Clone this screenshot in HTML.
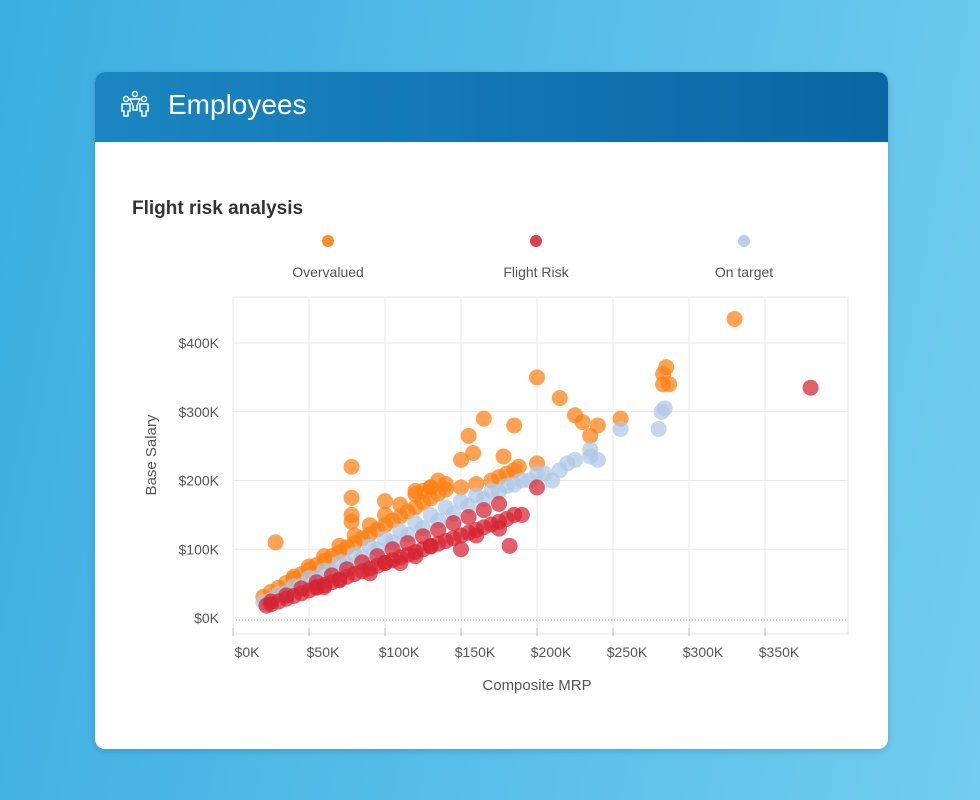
<!DOCTYPE html>
<html><head><meta charset="utf-8"><style>
body{margin:0;width:980px;height:800px;overflow:hidden;background:linear-gradient(100deg,#3caee2 0%,#5cc0ea 60%,#72cdee 100%);font-family:"Liberation Sans",sans-serif;}
#card{position:absolute;left:95px;top:72px;width:793px;height:677px;background:#fff;border-radius:10px;overflow:hidden;box-shadow:0 2px 8px rgba(0,0,0,.15);}
#hdr{position:absolute;left:0;top:0;width:793px;height:70px;background:linear-gradient(90deg,#1b86c1,#0a66a3);}
#hdr span{position:absolute;left:73px;top:17px;color:#fff;font-size:28px;}
svg{position:absolute;left:0;top:0;}
</style></head><body>
<div id="card">
<div id="hdr">
<svg width="60" height="70" style="left:20px;top:0" fill="none" stroke="#fff" stroke-width="1.5">
<circle cx="20" cy="22" r="2.5"/><path d="M15 27h10l-3 7v4h-4v-4z"/>
<circle cx="11" cy="27" r="2.5"/><path d="M7 32h8v7h-2v5h-4v-5h-2z"/>
<circle cx="29" cy="27" r="2.5"/><path d="M25 32h8v7h-2v5h-4v-5h-2z"/>
</svg>
<span>Employees</span>
</div>
</div>
<svg id="chart" width="980" height="800"></svg>
<script>
const xTicks=[0,50,100,150,200,250,300,350];
const yTicks=[0,100,200,300,400];
const seriesNames=["Overvalued","Flight Risk","On target"];
const overvaluedX=[20,25,30,35,40,45,50,55,60,65,70,75,80,85,90,95,100,105,110,115,120,125,130,135,140,150,160,170,180,40,50,60,70,80,90,100,110,120,130,28,78,78,78,78,100,125,130,150,155,158,165,178,185,188,200,200,215,225,230,235,240,255,283,285,287,283,330,120,140,135,175,185];
const overvaluedY=[31,38,44,51,57,64,70,77,83,90,96,103,109,116,122,129,135,142,148,155,161,168,174,181,187,190,195,200,210,60,75,90,105,120,135,150,165,180,190,110,220,175,150,140,170,185,190,230,265,240,290,235,280,220,350,225,320,295,285,265,280,290,355,365,340,340,435,185,195,200,205,215];
const ontargetX=[20,30,40,50,60,70,80,90,100,110,120,130,140,150,160,170,180,190,200,25,35,45,55,65,75,85,95,105,115,125,135,145,155,165,175,185,210,215,220,225,235,240,235,255,280,282,284,195,205];
const ontargetY=[23,35,46,58,69,80,92,104,115,126,138,150,161,170,178,185,192,200,210,26,37,47,58,68,79,89,100,110,121,131,142,152,163,173,184,194,200,215,225,230,235,230,245,275,275,300,305,200,210];
const riskX=[22,25,30,35,40,45,50,55,60,65,70,75,80,85,90,95,100,105,110,115,120,125,130,135,140,145,150,155,160,165,170,175,180,185,25,35,45,55,65,75,85,95,105,115,125,135,145,155,165,175,200,190,182,160,130,120,150,100,90,70,55,380,175,110,60];
const riskY=[18,20,24,28,32,36,40,44,48,52,56,60,64,68,72,76,80,84,88,92,96,100,104,108,112,116,120,124,128,132,136,140,144,150,24,33,43,52,62,71,81,90,100,109,119,128,138,147,157,166,190,150,105,120,105,90,100,80,65,55,45,335,130,80,45];
const NS="http://www.w3.org/2000/svg";
const svg=document.getElementById('chart');
const X0=233,X1=841,Y0=618,Y1=343;
const xs=v=>X0+v/400*(X1-X0);
const ys=v=>Y0-v/400*(Y0-Y1);
function mk(t,a){const e=document.createElementNS(NS,t);for(const k in a)e.setAttribute(k,a[k]);svg.appendChild(e);return e;}
let t=mk('text',{x:132,y:214,'font-size':19,'font-weight':'bold',fill:'#333'});t.textContent='Flight risk analysis';


const legCol=['#fd8d2c','#d9424a','#b7cfeb'];
const legX=[328,536,744];
seriesNames.forEach((n,i)=>{
 const c=mk('circle',{cx:legX[i],cy:241,r:6,fill:legCol[i]});
 
 
 const tx=mk('text',{x:legX[i],y:277,'font-size':14,fill:'#555','text-anchor':'middle'});tx.textContent=n;
 
 
});
const frame=mk('rect',{x:233,y:297,width:615,height:337,fill:'none',stroke:'#e4e4e4'});


xTicks.forEach(v=>{
 const g=mk('line',{x1:xs(v),x2:xs(v),y1:297,y2:634,stroke:'#e8e8e8'});
 
 
 mk('line',{x1:xs(v),x2:xs(v),y1:628,y2:636,stroke:'#bbb'});
 const l=mk('text',{x:xs(v)+14,y:657,'font-size':14,fill:'#555','text-anchor':'middle'});l.textContent='$'+v+'K';
 
 
});
yTicks.forEach(v=>{
 const g=mk('line',{x1:233,x2:848,y1:ys(v),y2:ys(v),stroke:'#e8e8e8'});
 
 
 const l=mk('text',{x:219,y:ys(v)+5,'font-size':14,fill:'#555','text-anchor':'end'});l.textContent='$'+v+'K';
 
 
});
mk('line',{x1:236,x2:848,y1:620,y2:620,stroke:'#888','stroke-dasharray':'1,2'});
let ax=mk('text',{x:537,y:690,'font-size':15,fill:'#555','text-anchor':'middle'});ax.textContent='Composite MRP';


let ay=mk('text',{x:0,y:0,'font-size':15,fill:'#555','text-anchor':'middle',transform:'translate(156,455) rotate(-90)'});ay.textContent='Base Salary';


function series(X,Y,col,name){
 X.forEach((v,i)=>{
  const c=mk('circle',{cx:xs(v),cy:ys(Y[i]),r:8,fill:col,'fill-opacity':0.72});
  
  
 });
}
series(overvaluedX,overvaluedY,'#fd7f12','overvalued');
series(ontargetX,ontargetY,'#aec7e8','on-target');
series(riskX,riskY,'#d62230','flight-risk');
</script>
</body></html>
